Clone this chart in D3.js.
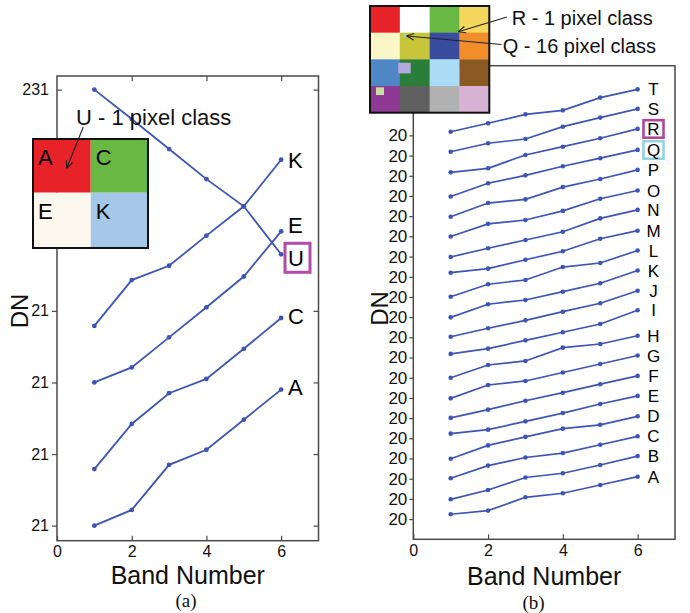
<!DOCTYPE html>
<html><head><meta charset="utf-8">
<script src="https://cdn.jsdelivr.net/npm/d3@7"></script>
<style>body{margin:0;background:#fff}svg{display:block}</style>
</head><body>
<script>
// ---------- DATA ----------
const bands = [1, 2, 3, 4, 5, 6];
const xTicks = [0, 2, 4, 6];

// Panel (a)
const aNames = ["U", "K", "E", "C", "A"];
const aU = [6.09, 5.68, 5.26, 4.84, 4.46, 3.79];
const aK = [2.79, 3.43, 3.63, 4.05, 4.46, 5.11];
const aE = [2.00, 2.21, 2.63, 3.05, 3.48, 4.11];
const aC = [0.79, 1.42, 1.85, 2.05, 2.47, 2.90];
const aA = [0.00, 0.22, 0.85, 1.06, 1.48, 1.90];
const aTickValues = [0, 1, 2, 3, 6.09];
const aTickLabels = ["21", "21", "21", "21", "231"];
const aInsetLabels = ["A", "C", "E", "K"];

// Panel (b)
const bNames = ["A","B","C","D","E","F","G","H","I","J","K","L","M","N","O","P","Q","R","S","T"];
const bA = [1.24, 1.42, 2.08, 2.28, 2.69, 3.10];
const bB = [1.98, 2.44, 3.06, 3.27, 3.68, 4.12];
const bC = [3.02, 3.65, 4.05, 4.27, 4.68, 5.10];
const bD = [3.99, 4.65, 5.07, 5.48, 5.67, 6.09];
const bE = [5.23, 5.43, 5.84, 6.25, 6.70, 7.10];
const bF = [6.01, 6.42, 6.86, 7.26, 7.68, 8.09];
const bG = [6.98, 7.64, 7.84, 8.26, 8.68, 9.10];
const bH = [8.00, 8.63, 8.83, 9.49, 9.67, 10.08];
const bI = [9.18, 9.44, 9.85, 10.25, 10.66, 11.34];
const bJ = [10.03, 10.45, 10.84, 11.27, 11.69, 12.31];
const bK = [10.99, 11.64, 11.85, 12.26, 12.68, 13.31];
const bL = [12.01, 12.63, 12.84, 13.48, 13.68, 14.30];
const bM = [13.20, 13.40, 13.84, 14.26, 14.88, 15.28];
const bN = [13.98, 14.41, 14.82, 15.23, 15.89, 16.31];
const bO = [14.99, 15.62, 15.81, 16.26, 16.86, 17.27];
const bP = [15.97, 16.65, 16.83, 17.44, 17.84, 18.29];
const bQ = [16.97, 17.63, 18.02, 18.47, 18.87, 19.28];
const bR = [18.17, 18.37, 19.03, 19.44, 19.86, 20.32];
const bS = [19.19, 19.61, 19.82, 20.43, 20.88, 21.31];
const bT = [20.18, 20.60, 21.04, 21.24, 21.87, 22.28];
const bTickValues = [1,2,3,4,5,6,7,8,9,10,11,12,13,14,15,16,17,18,19,20];
const bTickLabels = bTickValues.map(() => "20");

// ---------- STYLE ----------
const SANS = "'Liberation Sans', Arial, sans-serif";
const SERIF = "'Liberation Serif', 'Times New Roman', serif";
const BLUE = "#3f54b3";
const FRAME = "#4a4a4a";
const fmtInt = d3.format("d");

const svg = d3.select("body").append("svg").attr("width", 690).attr("height", 613);

function arrow(g, x1, y1, x2, y2) {
  g.append("line").attr("x1", x1).attr("y1", y1).attr("x2", x2).attr("y2", y2)
    .attr("stroke", "#222").attr("stroke-width", 1.1);
  const a = Math.atan2(y2 - y1, x2 - x1), L = 8, h = 0.42;
  [a + Math.PI - h, a + Math.PI + h].forEach(t => {
    g.append("line").attr("x1", x2).attr("y1", y2)
      .attr("x2", x2 + L * Math.cos(t)).attr("y2", y2 + L * Math.sin(t))
      .attr("stroke", "#222").attr("stroke-width", 1.1);
  });
}
function styleAxis(g, fs) {
  g.select(".domain").remove();
  g.selectAll(".tick line").attr("stroke", FRAME).attr("stroke-width", 1.2);
  g.selectAll(".tick text").attr("font-family", SANS).attr("font-size", fs).attr("fill", "#111");
}

// ================= PANEL (a) =================
(function () {
  const x = d3.scaleLinear().domain([0, 7]).range([57, 318.5]);
  const y = d3.scaleLinear().domain([-0.21, 6.28]).range([540.7, 76]);
  const g = svg.append("g");
  const [x0, x1] = x.range(), [yb, yt] = y.range();

  const bx = g.append("g").attr("transform", `translate(0,${yb})`)
    .call(d3.axisBottom(x).tickValues(xTicks).tickFormat(fmtInt).tickSizeInner(-5).tickSizeOuter(0).tickPadding(5));
  styleAxis(bx, 16);
  const tx = g.append("g").attr("transform", `translate(0,${yt})`)
    .call(d3.axisTop(x).tickValues(xTicks.slice(1)).tickSizeInner(-5).tickSizeOuter(0).tickFormat(""));
  styleAxis(tx, 16);
  const ly = g.append("g").attr("transform", `translate(${x0},0)`)
    .call(d3.axisLeft(y).tickValues(aTickValues).tickSizeInner(5).tickSizeOuter(0).tickPadding(3)
      .tickFormat((d, i) => aTickLabels[i]));
  styleAxis(ly, 16);
  ly.selectAll(".tick").filter((d, i) => aTickLabels[i] === "231").select("line").attr("x2", 5);
  const ry = g.append("g").attr("transform", `translate(${x1},0)`)
    .call(d3.axisRight(y).tickValues(aTickValues).tickSizeInner(-5).tickSizeOuter(0).tickFormat(""));
  styleAxis(ry, 16);

  g.append("rect").attr("x", x0).attr("y", yt).attr("width", x1 - x0).attr("height", yb - yt)
    .attr("fill", "none").attr("stroke", FRAME).attr("stroke-width", 1.5);

  const series = [aU, aK, aE, aC, aA];
  const line = d3.line().x((d, i) => x(bands[i])).y(d => y(d));
  series.forEach(s => {
    g.append("path").attr("d", line(s)).attr("fill", "none").attr("stroke", BLUE).attr("stroke-width", 1.8);
    g.selectAll(null).data(s).enter().append("circle")
      .attr("cx", (d, i) => x(bands[i])).attr("cy", d => y(d)).attr("r", 2.4).attr("fill", BLUE);
  });

  const nudge = { U: 3.5, K: 0, E: -6.5, C: -2, A: -3 };
  const fs = 22;
  series.forEach((s, k) => {
    const name = aNames[k];
    const cy = y(s[s.length - 1]) + nudge[name];
    g.append("text").attr("x", 288).attr("y", cy + 0.36 * fs).text(name)
      .attr("font-family", SANS).attr("font-size", fs).attr("fill", "#000");
    if (name === "U") {
      g.append("rect").attr("x", 285).attr("y", cy - 14.5).attr("width", 25).attr("height", 29)
        .attr("fill", "none").attr("stroke", "#b24ca8").attr("stroke-width", 3);
    }
  });

  const ins = g.append("g");
  const ix = [33, 90.7, 148], iy = [139, 192.7, 248];
  const colors = ["#e82229", "#69b843", "#fdf8ee", "#a5c7e8"];
  for (let r = 0; r < 2; r++) for (let c = 0; c < 2; c++) {
    const k = r * 2 + c;
    ins.append("rect").attr("x", ix[c]).attr("y", iy[r]).attr("width", ix[c + 1] - ix[c])
      .attr("height", iy[r + 1] - iy[r]).attr("fill", colors[k]);
    ins.append("text").attr("x", ix[c] + 5).attr("y", iy[r] + 26).text(aInsetLabels[k])
      .attr("font-family", SANS).attr("font-size", 22).attr("fill", "#000");
  }
  ins.append("rect").attr("x", 33).attr("y", 139).attr("width", 115).attr("height", 109)
    .attr("fill", "none").attr("stroke", "#111").attr("stroke-width", 2);

  g.append("text").attr("x", 76).attr("y", 125).text("U - 1 pixel class")
    .attr("font-family", SANS).attr("font-size", 22).attr("fill", "#111");
  arrow(g, 83.3, 127, 66.7, 168.3);

  g.append("text").attr("transform", `translate(${19.7 + 8.5},311) rotate(-90)`).attr("text-anchor", "middle")
    .text("DN").attr("font-family", SANS).attr("font-size", 24).attr("fill", "#111");
  g.append("text").attr("x", (x0 + x1) / 2).attr("y", 584).attr("text-anchor", "middle")
    .text("Band Number").attr("font-family", SANS).attr("font-size", 25).attr("fill", "#111");
  g.append("text").attr("x", 186).attr("y", 607).attr("text-anchor", "middle")
    .text("(a)").attr("font-family", SERIF).attr("font-size", 19).attr("fill", "#111");
})();

// ================= PANEL (b) =================
(function () {
  const x = d3.scaleLinear().domain([0, 7]).range([413.3, 675]);
  const y = d3.scaleLinear().domain([0, 23.45]).range([539.3, 65.7]);
  const g = svg.append("g");
  const [x0, x1] = x.range(), [yb, yt] = y.range();

  const bx = g.append("g").attr("transform", `translate(0,${yb})`)
    .call(d3.axisBottom(x).tickValues(xTicks).tickFormat(fmtInt).tickSizeInner(-5).tickSizeOuter(0).tickPadding(5));
  styleAxis(bx, 16);
  const ly = g.append("g").attr("transform", `translate(${x0},0)`)
    .call(d3.axisLeft(y).tickValues(bTickValues).tickSizeInner(4).tickSizeOuter(0).tickPadding(2)
      .tickFormat((d, i) => bTickLabels[i]));
  styleAxis(ly, 17);

  g.append("rect").attr("x", x0).attr("y", yt).attr("width", x1 - x0).attr("height", yb - yt)
    .attr("fill", "none").attr("stroke", FRAME).attr("stroke-width", 1.5);

  const series = [bA, bB, bC, bD, bE, bF, bG, bH, bI, bJ, bK, bL, bM, bN, bO, bP, bQ, bR, bS, bT];
  const line = d3.line().x((d, i) => x(bands[i])).y(d => y(d));
  const fs = 17;
  series.forEach((s, k) => {
    g.append("path").attr("d", line(s)).attr("fill", "none").attr("stroke", BLUE).attr("stroke-width", 1.7);
    g.selectAll(null).data(s).enter().append("circle")
      .attr("cx", (d, i) => x(bands[i])).attr("cy", d => y(d)).attr("r", 2.3).attr("fill", BLUE);
    const name = bNames[k];
    const cy = y(s[s.length - 1]);
    if (name === "R" || name === "Q") {
      g.append("rect").attr("x", 643.5).attr("y", cy - 8.7).attr("width", 20).attr("height", 17.5)
        .attr("fill", "none").attr("stroke", name === "R" ? "#b0479f" : "#93d3e3").attr("stroke-width", 2.6);
    }
    g.append("text").attr("x", 653.5).attr("y", cy + 0.36 * fs).attr("text-anchor", "middle").text(name)
      .attr("font-family", SANS).attr("font-size", fs).attr("fill", "#000");
  });

  const ins = g.append("g");
  const L = 370, T = 6, R = 489.3, B = 112.7;
  const cw = (R - L) / 4, ch = (B - T) / 4;
  const colors = [
    "#e82229", "#ffffff", "#69b843", "#f6d75e",
    "#fbf6c8", "#c8c53a", "#3a4c9e", "#f28d2b",
    "#4f86c6", "#2b7d3a", "#aadcf5", "#8b5a24",
    "#8e3994", "#5f5f5f", "#b1b1b1", "#d6b3d5"
  ];
  colors.forEach((c, k) => {
    ins.append("rect").attr("x", L + (k % 4) * cw).attr("y", T + Math.floor(k / 4) * ch)
      .attr("width", cw + 0.3).attr("height", ch + 0.3).attr("fill", c);
  });
  ins.append("rect").attr("x", L + cw - 1.6).attr("y", T + 2 * ch + 3.4).attr("width", 12.5).attr("height", 10.6).attr("fill", "#b4a9dc");
  ins.append("rect").attr("x", L + 6).attr("y", T + 3 * ch + 1.3).attr("width", 8).attr("height", 7.7).attr("fill", "#c9dca2");
  ins.append("rect").attr("x", L + cw + 3.5).attr("y", T + ch + 1.5).attr("width", 3).attr("height", 3).attr("fill", "#8fd6d6");
  ins.append("rect").attr("x", L).attr("y", T).attr("width", R - L).attr("height", B - T)
    .attr("fill", "none").attr("stroke", "#111").attr("stroke-width", 2);

  g.append("text").attr("x", 511.7).attr("y", 25).text("R - 1 pixel class")
    .attr("font-family", SANS).attr("font-size", 20).attr("fill", "#111");
  g.append("text").attr("x", 502.7).attr("y", 53).text("Q - 16 pixel class")
    .attr("font-family", SANS).attr("font-size", 20).attr("fill", "#111");
  arrow(g, 507, 17, 458.3, 31.7);
  arrow(g, 501.5, 44.5, 406.7, 36);

  g.append("text").attr("transform", `translate(${379 + 8.5},308.5) rotate(-90)`).attr("text-anchor", "middle")
    .text("DN").attr("font-family", SANS).attr("font-size", 24).attr("fill", "#111");
  g.append("text").attr("x", (x0 + x1) / 2).attr("y", 585).attr("text-anchor", "middle")
    .text("Band Number").attr("font-family", SANS).attr("font-size", 25).attr("fill", "#111");
  g.append("text").attr("x", 533.5).attr("y", 609).attr("text-anchor", "middle")
    .text("(b)").attr("font-family", SERIF).attr("font-size", 19).attr("fill", "#111");
})();
</script>
</body></html>
